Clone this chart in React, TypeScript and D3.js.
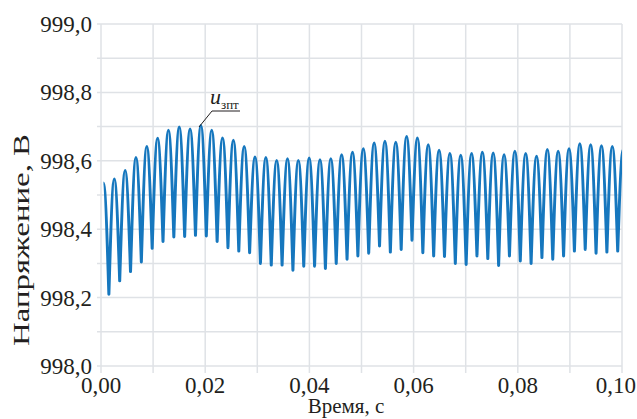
import React from "react";
import * as d3 from "d3";

// Ripple period and timing of first peak (s)
const PERIOD = 0.002078;
const FIRST_PEAK_T = 0.00255;

// Peak values, V (peak 0 is just before t = 0, peak 48 just after t = 0.1)
const peakValues = [
  998.535,
  998.547, 998.572, 998.61, 998.642, 998.666, 998.689, 998.699, 998.693, 998.703, 998.689,
  998.667, 998.66, 998.642, 998.611, 998.61, 998.601, 998.606, 998.601, 998.608, 998.603,
  998.606, 998.618, 998.625, 998.635, 998.652, 998.657, 998.654, 998.671, 998.667, 998.647,
  998.631, 998.621, 998.616, 998.621, 998.625, 998.623, 998.618, 998.628, 998.621, 998.613,
  998.633, 998.628, 998.635, 998.65, 998.647, 998.644, 998.642,
  998.632,
];

// Trough values, V (trough i lies between peak i-1 and peak i)
const troughValues = [
  998.21, 998.249, 998.276, 998.304, 998.344, 998.364, 998.377, 998.379, 998.382, 998.38,
  998.364, 998.346, 998.336, 998.331, 998.3, 998.295, 998.295, 998.28, 998.292, 998.292,
  998.285, 998.3, 998.312, 998.322, 998.33, 998.351, 998.333, 998.341, 998.368, 998.331,
  998.322, 998.32, 998.3, 998.297, 998.322, 998.314, 998.294, 998.322, 998.307, 998.3,
  998.317, 998.312, 998.322, 998.336, 998.341, 998.33, 998.333, 998.336,
];

const xTicks = [0, 0.02, 0.04, 0.06, 0.08, 0.1];
const xGrid = [0, 0.01, 0.02, 0.03, 0.04, 0.05, 0.06, 0.07, 0.08, 0.09, 0.1];
const yTicks = [998.0, 998.2, 998.4, 998.6, 998.8, 999.0];
const yGrid = [998.0, 998.1, 998.2, 998.3, 998.4, 998.5, 998.6, 998.7, 998.8, 998.9, 999.0];

const W = 637;
const H = 419;
const L = 101, R = 622, T = 24, B = 366;

const fmt = (v: number, d: number) => v.toFixed(d).replace(".", ",");

export default function App() {
  const x = d3.scaleLinear().domain([0, 0.1]).range([L, R]);
  const y = d3.scaleLinear().domain([998, 999]).range([B, T]);

  const pts: { t: number; v: number; peak: boolean }[] = [];
  for (let i = 0; i < peakValues.length; i++) {
    if (i > 0) {
      pts.push({ t: FIRST_PEAK_T + (i - 1.5) * PERIOD, v: troughValues[i - 1], peak: false });
    }
    pts.push({ t: FIRST_PEAK_T + (i - 1) * PERIOD, v: peakValues[i], peak: true });
  }

  const p = d3.path();
  const k = 0.5236;
  pts.forEach((pt, i) => {
    const px = x(pt.t), py = y(pt.v);
    if (i === 0) { p.moveTo(px, py); return; }
    const prev = pts[i - 1];
    const x0 = x(prev.t), y0 = y(prev.v);
    const dx = px - x0;
    if (prev.peak) {
      p.bezierCurveTo(x0 + dx / 3, y0, x0 + (2 * dx) / 3, py + (y0 - py) * k, px, py);
    } else {
      p.bezierCurveTo(x0 + dx / 3, y0 + (py - y0) * k, x0 + (2 * dx) / 3, py, px, py);
    }
  });

  const gridColor = "#dfe2e6";
  const font = "'Liberation Serif', 'DejaVu Serif', 'Times New Roman', Times, serif";
  const ink = "#231f20";

  return (
    <svg width={W} height={H} style={{ position: "absolute", left: 0, top: 0, background: "#fff" }}>
      <defs>
        <clipPath id="plotClip">
          <rect x={L} y={0} width={R - L} height={H} />
        </clipPath>
      </defs>
      <rect x={0} y={0} width={W} height={H} fill="#fff" />
      {xGrid.map((t) => (
        <line key={"xg" + t} x1={x(t)} x2={x(t)} y1={T} y2={B + 7} stroke={gridColor} strokeWidth={1.5} />
      ))}
      {yGrid.map((v) => (
        <line key={"yg" + v} x1={L - 4} x2={R} y1={y(v)} y2={y(v)} stroke={gridColor} strokeWidth={1.5} />
      ))}
      <path d={p.toString()} fill="none" stroke="#1677be" strokeWidth={3} strokeLinejoin="round" clipPath="url(#plotClip)" />
      <g style={{ fontFamily: font }} fill={ink}>
        {yTicks.map((v) => (
          <text key={"yt" + v} x={92} y={y(v) + 8} textAnchor="end" fontSize={23}>
            {fmt(v, 1)}
          </text>
        ))}
        {xTicks.map((t, i) => (
          <text
            key={"xt" + t}
            x={i === xTicks.length - 1 ? 636 : x(t)}
            y={393}
            textAnchor={i === xTicks.length - 1 ? "end" : "middle"}
            fontSize={23}
          >
            {fmt(t, 2)}
          </text>
        ))}
        <text x={346} y={413} textAnchor="middle" fontSize={21}>
          Время, с
        </text>
        <text
          transform="translate(29,240) rotate(-90)"
          textAnchor="middle"
          fontSize={23}
          textLength={212}
          lengthAdjust="spacingAndGlyphs"
        >
          Напряжение, В
        </text>
        <text x={210} y={104} fontSize={22} fontStyle="italic">u</text>
        <text x={221} y={109} fontSize={13}>зпт</text>
      </g>
      <polyline points="199,127 212,111 240,111" fill="none" stroke={ink} strokeWidth={1} />
    </svg>
  );
}
